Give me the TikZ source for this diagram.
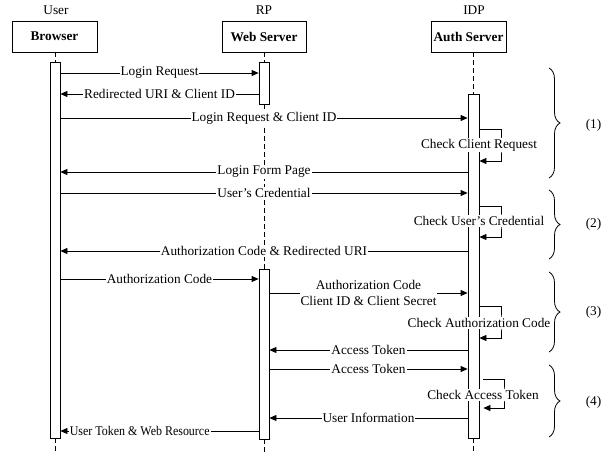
\documentclass[tikz,border=0pt]{standalone}
\usepackage{fontspec}
\setmainfont{Liberation Serif}
\usetikzlibrary{arrows.meta,decorations.pathreplacing}
\newcommand\dgfont{\fontsize{13.3}{16}\selectfont}
\begin{document}
\begin{tikzpicture}[x=1pt,y=-1pt,
  every node/.style={font=\dgfont},
  hdrbox/.style={draw, line width=0.8pt, minimum height=31pt, inner sep=0pt, font=\dgfont\bfseries},
  actbar/.style={draw, fill=white, line width=0.8pt, minimum width=10pt, inner sep=0pt},
  life/.style={line width=0.8pt, dash pattern=on 5pt off 3pt},
  msg/.style={line width=0.8pt, -{Triangle[length=7pt,width=6pt]}},
  lbl/.style={fill=white, inner sep=1pt},
  brc/.style={decorate, decoration={brace, amplitude=11pt}, line width=0.8pt}]
\useasboundingbox (0,0) rectangle (602,452);

% headers
\node (uU) at (56,10) {User};
\node (uR) at (264,10) {RP};
\node (uI) at (474,10) {IDP};
\node[hdrbox, minimum width=85pt] (hA) at (54.5,36.5) {Browser};
\node[hdrbox, minimum width=84pt] (hW) at (264,36.5) {Web Server};
\node[hdrbox, minimum width=75pt] (hI) at (468.5,36.5) {Auth Server};

% y levels
\coordinate (yb) at (0,452);
\foreach \n/\y in {m1/73,m2/94,m3/118,l1t/129,l1b/161,m5/172,m6/193,l2t/206,l2b/237,
  m8/251,m9/279,m10/293,l3t/306,l3b/338,m12/350,m13/369,l4t/379,l4b/408,m15/418,m16/431}
  \coordinate (\n) at (0,\y);

% activation bars
\node[actbar, minimum height=376pt] (bA) at (55,250) {};
\node[actbar, minimum height=42pt] (bW1) at (264,83) {};
\node[actbar, minimum height=170pt] (bW2) at (264,354) {};
\node[actbar, minimum width=11pt, minimum height=344pt] (bI) at (473.5,266) {};

% lifelines
\draw[life] (hA.south -| bA.north) -- (bA.north);
\draw[life] (hW.south) -- (bW1.north);
\draw[life] (bW1.south) -- (bW2.north);
\draw[life] (hI.south -| bI.north) -- (bI.north);
\draw[life] (bA.south) -- (bA.south |- yb);
\draw[life] (bW2.south) -- (bW2.south |- yb);
\draw[life] (bI.south) -- (bI.south |- yb);

% messages
\draw[msg] (bA.east |- m1) -- node[lbl]{Login Request} (bW1.west |- m1);
\draw[msg] (bW1.west |- m2) -- node[lbl]{Redirected URI \& Client ID} (bA.east |- m2);
\draw[msg] (bA.east |- m3) -- node[lbl]{Login Request \& Client ID} (bI.west |- m3);
\draw[msg] (bI.west |- m5) -- node[lbl]{Login Form Page} (bA.east |- m5);
\draw[msg] (bA.east |- m6) -- node[lbl]{User's Credential} (bI.west |- m6);
\draw[msg] (bI.west |- m8) -- node[lbl]{Authorization Code \& Redirected URI} (bA.east |- m8);
\draw[msg] (bA.east |- m9) -- node[lbl]{Authorization Code} (bW2.west |- m9);
\draw[msg] (bW2.east |- m10) -- node[lbl, align=center]{Authorization Code\\Client ID \& Client Secret} (bI.west |- m10);
\draw[msg] (bI.west |- m12) -- node[lbl]{Access Token} (bW2.east |- m12);
\draw[msg] (bW2.east |- m13) -- node[lbl]{Access Token} (bI.west |- m13);
\draw[msg] (bI.west |- m15) -- node[lbl]{User Information} (bW2.east |- m15);
\draw[msg] (bW2.west |- m16) -- node[lbl, pos=0.6]{\scalebox{0.9}[1]{User Token \& Web Resource}} (bA.east |- m16);

% self loops
\coordinate (r1) at (501,145);
\coordinate (r2) at (501,221);
\coordinate (r3) at (501,323);
\coordinate (r4) at (504,395);
\draw[msg] (bI.east |- l1t) -| (r1) |- (bI.east |- l1b);
\draw[msg] (bI.east |- l2t) -| (r2) |- (bI.east |- l2b);
\draw[msg] (bI.east |- l3t) -| (r3) |- (bI.east |- l3b);
\draw[msg] ([xshift=4pt]bI.east |- l4t) -| (r4) |- ([xshift=4pt]bI.east |- l4b);
\node[lbl] (c1) at (479,145) {Check Client Request};
\node[lbl] (c2) at (479,221) {Check User's Credential};
\node[lbl] (c3) at (479,323) {Check Authorization Code};
\node[lbl] (c4) at (483,395) {Check Access Token};

% braces
\coordinate (g1t) at (549,68);  \coordinate (g1b) at (549,178);
\coordinate (g2t) at (549,190); \coordinate (g2b) at (549,259);
\coordinate (g3t) at (549,272); \coordinate (g3b) at (549,352);
\coordinate (g4t) at (549,365); \coordinate (g4b) at (549,437);
\draw[brc] (g1t) -- (g1b);
\draw[brc] (g2t) -- (g2b);
\draw[brc] (g3t) -- (g3b);
\draw[brc] (g4t) -- (g4b);
\node[anchor=east, inner sep=0pt] (p1) at (601.5,125) {(1)};
\node[anchor=east, inner sep=0pt] (p2) at (601.5,224) {(2)};
\node[anchor=east, inner sep=0pt] (p3) at (601.5,312) {(3)};
\node[anchor=east, inner sep=0pt] (p4) at (601.5,402) {(4)};
\end{tikzpicture}
\end{document}
